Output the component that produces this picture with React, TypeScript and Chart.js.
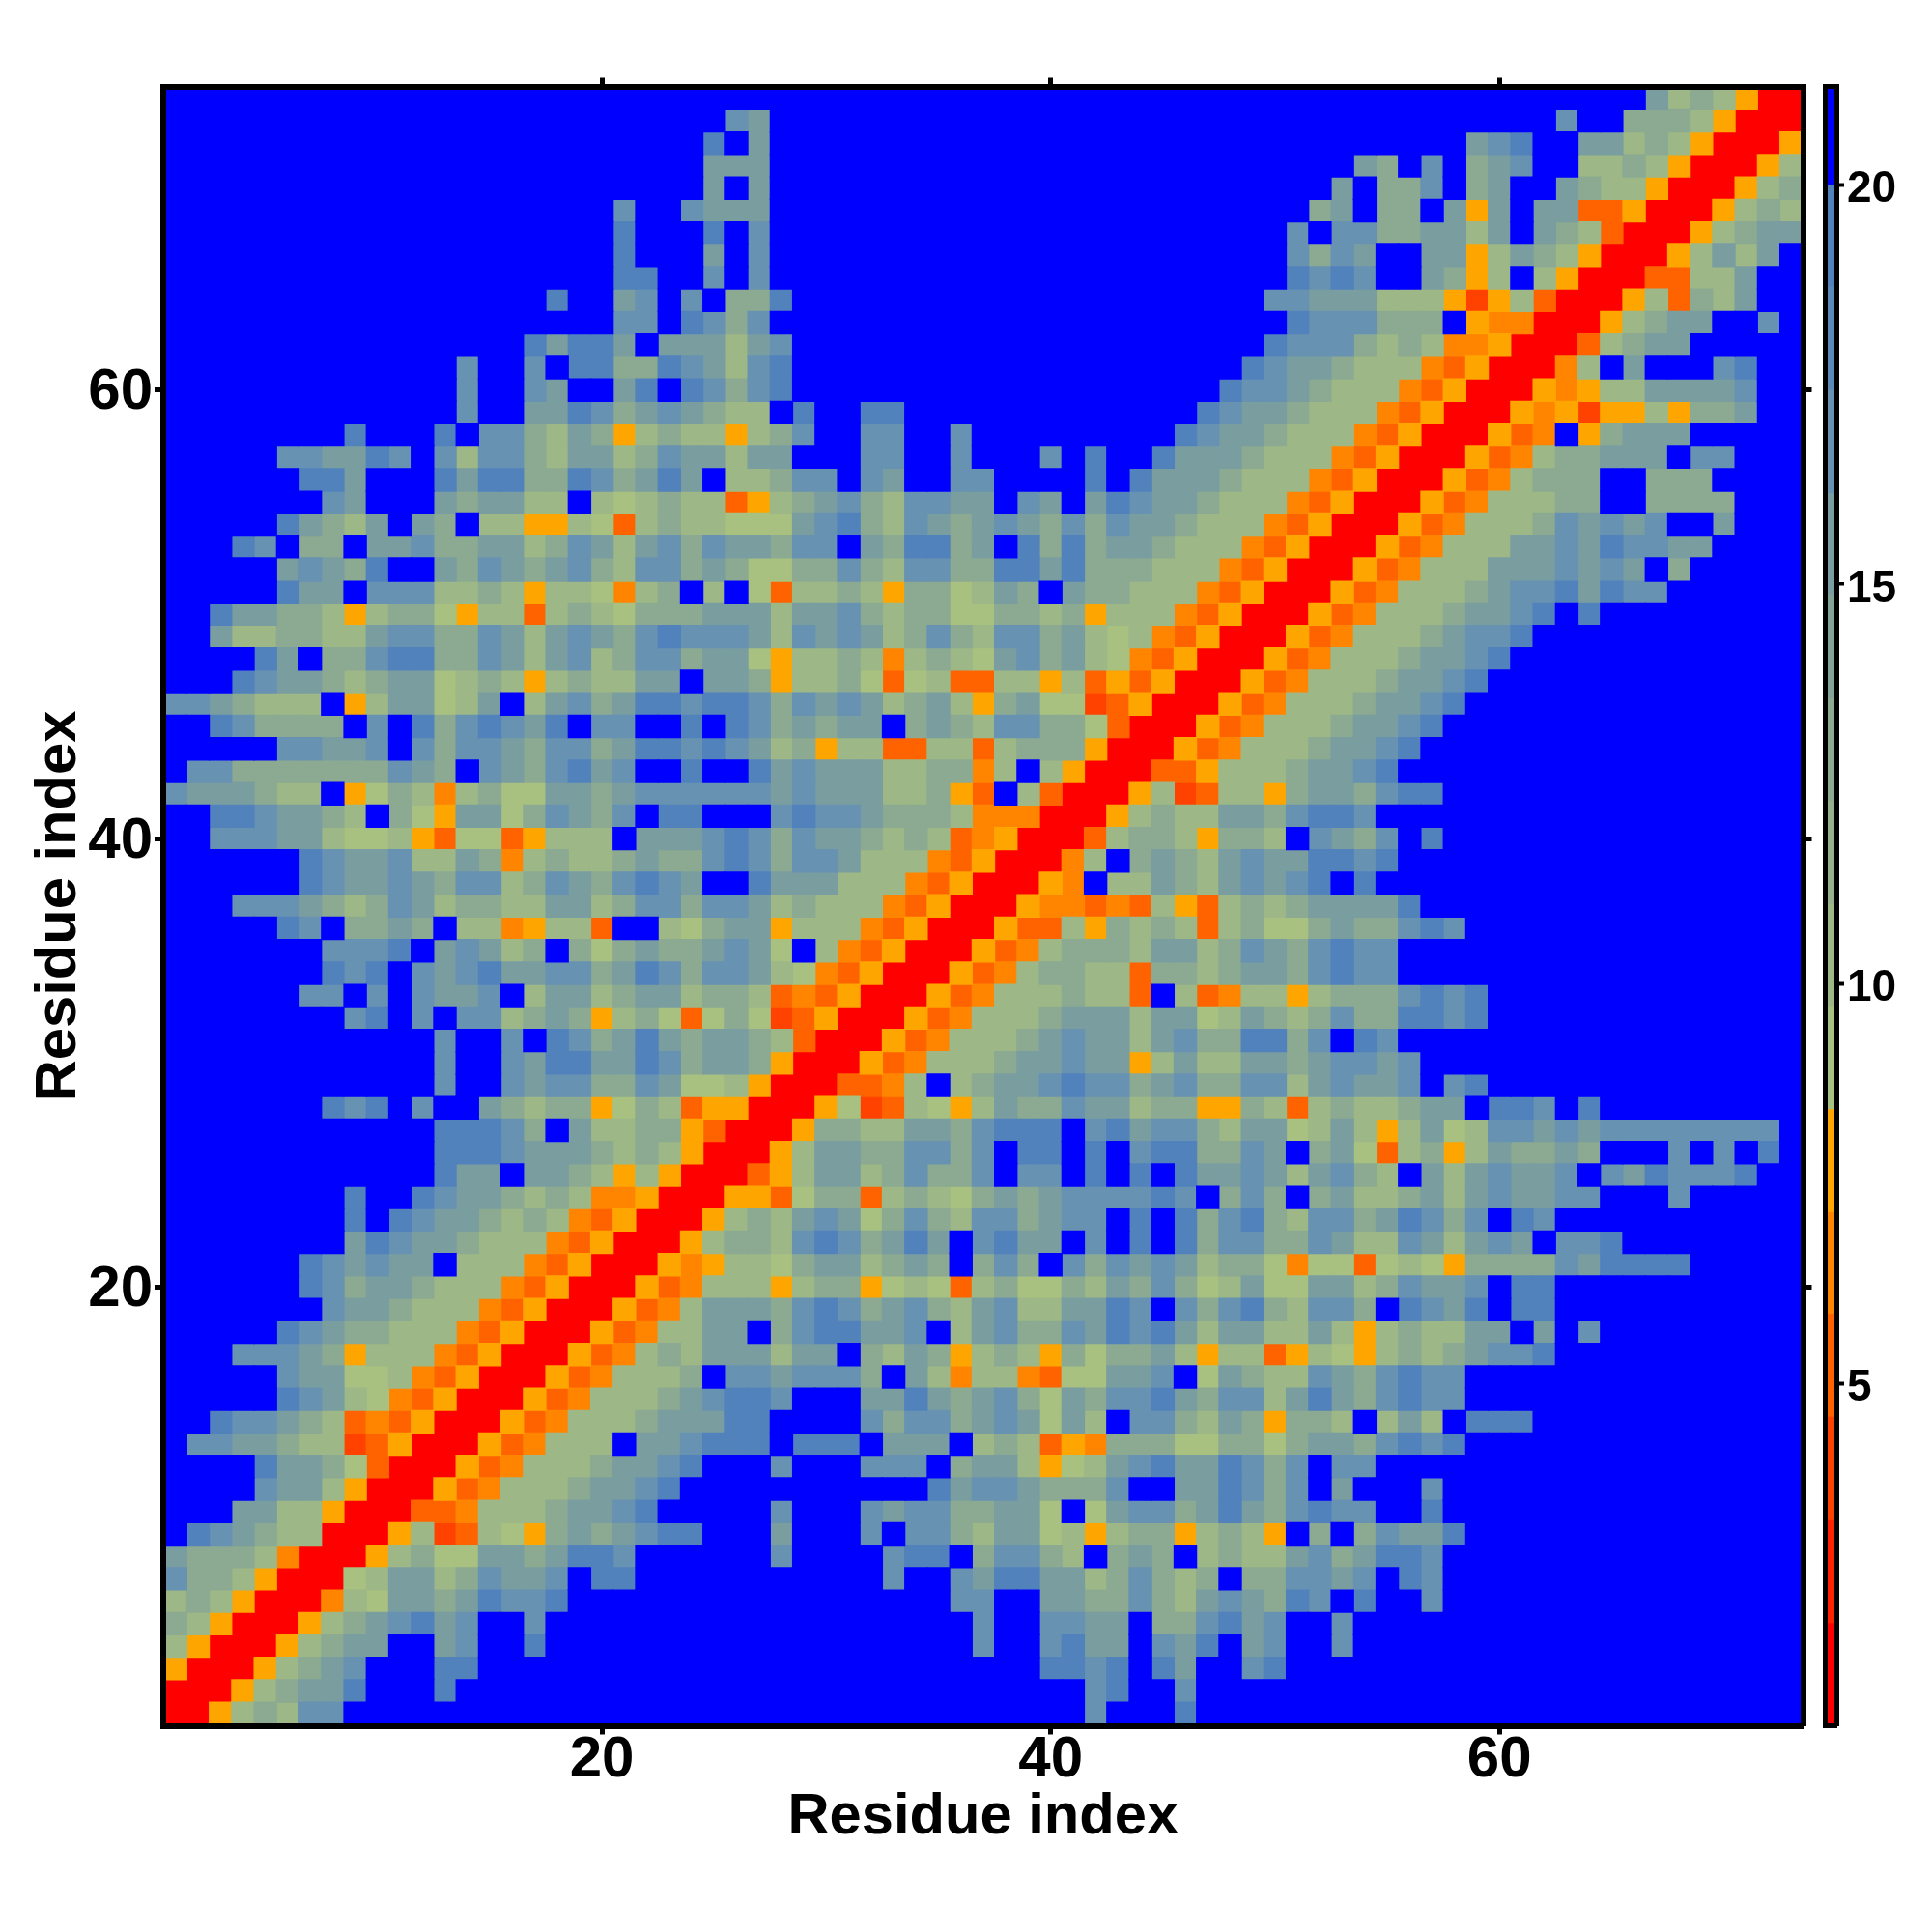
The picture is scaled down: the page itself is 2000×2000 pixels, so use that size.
import React, { useEffect, useRef } from "react";
import { Chart, registerables } from "chart.js";

Chart.register(...registerables);

// Residue pairs, top row = residue 73, left column = residue 1. Each letter is one colour band of the distance key.
const HEAT_ROWS = [
  ".......... .......... .......... .......... .......... .......... ......dbcb yrr",
  ".......... .......... .....ed... .......... .......... .......... ..e..cccby rrr",
  ".......... .......... ....f.d... .......... .......... ........de f..ddbcbyr rry",
  ".......... .......... ....ddd... .......... .......... ...dc.e.cd e..bbcbyrr ryb",
  ".......... .......... ....d.d... .......... .......... ..d.cce.cd ..dcbbyrrr ybc",
  ".......... .......... e..eddd... .......... .......... .cd.cc.dyd .ddooyrrry bcb",
  ".......... .......... f...f.e... .......... .......... e.eeccddbd .dcborrryb cdd",
  ".......... .......... f...d.e... .......... .......... eced..ddyb dcbyrrrybd bd.",
  ".......... .......... ff..e.e... .......... .......... fefe..dcyb .byrrroobb d..",
  ".......... .......f.. de.e.ccf.. .......... .........e edddbbbyqy borrrybocb d..",
  ".......... .......... ee.fece... .......... .......... feeeccc.yn nrrrybcdd. .e.",
  ".......... ......fdff d.dddbde.. .......... .........f eeecbcbnny rrrobcdd.. ...",
  ".......... ...e..e.ff ccfedbef.. .......... ........fe ddcbbbnoyr rrnb.d...e f..",
  ".......... ...e..ed.. df.fecef.. .......... .......fee dcbbbnoyrr rynybbdddd e..",
  ".......... ...e..ddfe cdedcbb.f. .ff....... ......fedd cbbbnoyrrr ynyqyybycc d..",
  "........f. ..f.eecbdc ybcbbybce. .ee..e.... .....feddc bbbnoyrrry on.ycddd.. ...",
  ".....eeddf e.ebeecbdd bceddbdd.. .ee..e...e .f..fdddcb bbnoyrrryo nbccddd.ee ...",
  "......ffd. ..fdffccfe cdfd.bbcee .ed..ee... .f.fdddcbb bnoyrrryon bccc..ccc. ...",
  ".......ed. ..dcddbb.b abcbboybcd ecbeedd.ed .dfeddcbbb noyrrryonb bbcc..cccc ...",
  ".....fdcbd .dc.bbyyba obcbbaaade fcbedcdedc eceddcbbbn oyrrryonbb bcedede..d ...",
  "...fe.cc.d deccddbced bdeceddcee .dcffcd.fc fcddcbbbno yrrryonbbb ddedfeedd. ...",
  ".....dedcf ..dcedcdec beecdcaacc ecbeeccffd fcccbbbnoy rrryonbbbd ddeded.c.. ...",
  ".....fdd.e eebbcbybba nbc.b.aobb cbyccabdc. dccbbbnoyr rryonbbbcd eefdfee... ...",
  "..fddccbyb ccaybbobcb acccdddbdd ecbccaaccb cybbbnoyrr ryonbbbcdd ef.f...... ...",
  "..dbbccbbd eeccedbded cefeeedbed edbcecbeec dbabnoyrrr yonbbbcdee f......... ...",
  "....fd.cce ffccedbdeb ceecddaybb cbnbcbadec dbanoyrrry onbbbcddef .......... ...",
  "...feddcbc ddabcbybcb bdd.ddcybb caoaboobby boyoyrrryo nbbbcddef. .......... ...",
  "eedcbbb.yb ddabd.bdec dffeffeced edbcdbycda aqoyrrryon bbbcddef.. .......... ...",
  "..fecccc.e .fcefedf.e e..f.fecdc dd.cdcbeec caorrryonb bbcddef... .......... ...",
  ".....eedde .eceedceec dffefedbcy bboobbobcc cyrrryonbb bcddef.... .......... ...",
  ".eeccccccc edc.edcefd e..f..fded ddbbccnb.b yrrrooybbb cddef..... .......... ...",
  "edddcbb.ya cbnbcaaddc deeeeeeded ddbbcyo.bo rrrybqobby cddceff... .......... ...",
  "..ffeddcb. caydd acedc e.ff...efe edcccbnnnr rrybcbbddc effe...... .......... ...",
  "..eeeddbaa byoaaoybbb .dddefeced dcbcbonyrr robccbyccb .edce.f... .......... ...",
  "......fedd ebbdcnbcbb cdccefecee dbbbnoyrrr nb.cdcbded dffef..... .......... ...",
  "......fedd edceebcedc efed..fddd bbbnoyrrry n.bbdcbded ef.f...... .......... ...",
  "...eeedcbc edbccbbddb ceeceedbcb bbnoyrrryn nonobyobcb cddddf.... .......... ...",
  ".....fe.cc dc.bbnybbo ..bacddybb bnoyrrryoo bycbcbobca acdccefe.. .......... ...",
  ".......eee f.dedbc.ca cdccdeda.b noyrrryonb cccbddbced cefee..... .......... ...",
  ".......fef .edefddeec dfeceedban oyrrryonbc cbboccbcdd cefee..... .......... ...",
  "......ee.e .edde.bddb cddbccbono yrrryonbbb cbbo.bonbb ybcccefef. .......... ...",
  "........ef .e.eebcdcy bcaoacaqoy rrryonbbbc dddbddabdc bceccffef. .......... ...",
  ".......... ..e..e.fec dfdcddcbor rryonbbbcd eddbdeccff ce.fe..... .......... ...",
  ".......... ..e..edffd dfecddcyrr ryonbbbcdd eddybdbbdd cdeede.... .......... ...",
  ".......... ..e..edeec cedaabyrrr oonb.bcdde feecdeccee bdedde.ef. .......... ...",
  ".......fef .e..dcbccy acboyyrrry aqobaybdcc eddbccyycb obcbbcdd.f fe.f...... ...",
  ".......... ..fffec.db bccyorrryc cbbddcefff .efdeecbdd abdbybdabe ededeeeeee ee.",
  ".......... ..fffedddc bcbyrrrybd dcceece.ff .f.effcced .cdaobcybd ccdc...e.e .f.",
  ".......... ..fdd.ddcb ybyrrroybd dbcecce.ee .f.f.fdded bdecb.dbde dde.edfeee f..",
  "........f. .feddcbcbn nyrrryyoac cobcbacdcd eeeefe.cec .cdbbcdbde ddee...e.. ...",
  "........f. feddcbcbno yrrrybcbde dacecbeecd ee.f.fcefc beecdfece. fe........ ...",
  "........df eddcbbbnoy rrrybccbef ecdfd.efdd .e.f.fceec cedbbedbde d.eef..... ...",
  "......fede dd.bbbnoyr rrynybbacd dbcdc.cec. ecededbcca naaoabaycc ccedffff.. ...",
  "......fecd dcbbbnoyrr ryonbbbybc cyabaobcaa cbdcecabda addbcedde. ff........ ...",
  ".......edd cbbbnoyrrr yonbdddcef ecdecbdebb ddfe.ecefc beec.fedf. ff........ ...",
  ".....fedcc bbbnoyrrry onbbdd.cef fdde.bdecc edfefdbddb bdbybcbbdd .d.e...... ...",
  "...eeedcyb bbnoyrrryo nbcbdddbdd .cbdcybcby caccdbybbo ybaybcbcde ef........ ...",
  ".....eddaa bnoyrrryon bbbc.eedee ec.dbnbbno aadde.adcb bedcefee.. .......... ...",
  ".....fedba noyrrryonb bbcdeffe.. .ddfdcdeca dceefdceeb dfdcefee.. .......... ...",
  "..feedcbon oyrrryonbb bcdddff... .eceecdeda db.eecbdcy ccb.bdb.ff f......... ...",
  ".eeddcbbqo yrrryonbbb .ddefff.ff f.ddd.bcbo yncccaacca cddcefef.. .......... ...",
  "....fddcao rrryonbbbc ddef...e.. .eee.cddby abdefddfec e.ee...... .......... ...",
  "....eddbyr rryonbbbcd def....... ....fdeedc cce..ddfec e.d...e... .......... ...",
  "...ddbbyrr roonbbbcdd ef.....e.. .edeeccdda .adeecdfdc efee..f... .......... ...",
  ".fedcbbrrr ybqobaycdc deff...d.. .e.eecbdda bybccybcby .c.ceddf.. .......... ...",
  "dcccbnrrry bcaaddcdff e......e.. ..eff.ceec b.cdc.bcbb decdffe... .......... ...",
  "eccbyrrrab ddbcedde.f f......... ..e..edffd dbcecbc.cc eede.fe... .......... ...",
  "bcbyrrrnba ddcdfeef.. .......... .....ee..d dccecbdedc fe.f..e... .......... ...",
  "cbyrrrybcd efde..e... .......... ......e..e edd.ccefde ..e....... .......... ...",
  "byrrrybcdd ..de..f... .......... ......e..e fdd.edf.de ..e....... .......... ...",
  "yrrrybcde. ..ff...... .......... .........f fef.fd..ef .......... .......... ...",
  "rrrybcddf. ..f....... .......... .......... .ef..e.... .......... .......... ...",
  "rrybcbee.. .......... .......... .......... .e...f.... .......... .......... ...",
];

const CELL_CODES = ["r", "q", "o", "n", "y", "a", "b", "c", "d", "e", "f", "."];
const CELL_COLORS = ["#ff0000", "#ff4200", "#ff6300", "#ff8400", "#ffa500", "#a8c080", "#9db886", "#8caa91", "#7a9ea0", "#6892b2", "#5282bc", "#0000ff"];

const MAIN_TICKS = [20, 40, 60];
const KEY_TICKS = [5, 10, 15, 20];
const KEY_EDGES = [0.72, 2.0, 3.3, 4.58, 5.87, 7.14, 8.43, 9.72, 11.0, 12.29, 13.57, 14.86, 16.14, 17.43, 18.72, 20.0, 21.23];
const KEY_COLORS = ["#ff0000", "#ff2100", "#ff4200", "#ff6300", "#ff8400", "#ffa500", "#a8c080", "#9db886", "#94b18c", "#8caa91", "#82a498", "#7a9ea0", "#6892b2", "#5c8ab8", "#5282bc", "#0000ff"];

const X_LABEL = "Residue index";
const Y_LABEL = "Residue index";
const FONT_FAMILY = "'Liberation Sans', Arial, sans-serif";

function forceTicks(values: number[]) {
  return (scale: any) => {
    scale.ticks = values.map((value) => ({ value }));
  };
}

function fixed(size: number, dim: "width" | "height") {
  return (scale: any) => {
    scale[dim] = size;
  };
}

export default function App() {
  const mainRef = useRef<HTMLCanvasElement>(null);
  const keyRef = useRef<HTMLCanvasElement>(null);

  useEffect(() => {
    const rows = HEAT_ROWS.map((s) => s.replace(/ /g, "").padEnd(73, "."));
    const datasets = CELL_CODES.map((code, i) => {
      const data: { x: number; y: number }[] = [];
      rows.forEach((row, r) => {
        for (let c = 0; c < 73; c++) if (row[c] === code) data.push({ x: c + 1, y: 73 - r });
      });
      return {
        data,
        backgroundColor: CELL_COLORS[i],
        borderWidth: 0,
        clip: 0,
        pointStyle: "rect",
        order: CELL_CODES.length - i,
        pointRadius: (ctx: any) => {
          const s = ctx.chart.scales.x;
          return (Math.abs(s.getPixelForValue(2) - s.getPixelForValue(1)) + 1.2) / Math.SQRT2;
        },
      };
    });

    const frame = { display: true, width: 6, color: "#000", z: 2 };
    const tickGrid = { drawOnChartArea: false, drawTicks: true, tickLength: 9, tickWidth: 5, tickColor: "#000" };
    const mainFont = { family: FONT_FAMILY, weight: "bold" as const, size: 60 };

    const main = new Chart(mainRef.current!, {
      type: "scatter",
      data: { datasets: datasets as any },
      options: {
        animation: false,
        responsive: false,
        devicePixelRatio: 1,
        events: [],
        plugins: { legend: { display: false }, tooltip: { enabled: false } },
        scales: {
          x: {
            type: "linear", position: "bottom", min: 0.45, max: 73.53,
            afterBuildTicks: forceTicks(MAIN_TICKS), afterFit: fixed(213.5, "height"),
            border: frame, grid: tickGrid,
            ticks: { font: mainFont, color: "#000", padding: -9, maxRotation: 0, autoSkip: false, callback: (v: any) => String(v) },
            title: { display: true, text: X_LABEL, color: "#000", font: { ...mainFont, size: 59.7 }, padding: { top: 0, bottom: 83 } },
          },
          y: {
            type: "linear", position: "left", min: 0.45, max: 73.53,
            afterBuildTicks: forceTicks(MAIN_TICKS), afterFit: fixed(169, "width"),
            border: frame, grid: tickGrid,
            ticks: { font: mainFont, color: "#000", padding: 2, labelOffset: 3, autoSkip: false, callback: (v: any) => String(v) },
            title: { display: true, text: Y_LABEL, color: "#000", font: { ...mainFont, size: 59.7 }, padding: { top: 26, bottom: 0 } },
          },
          xTop: {
            type: "linear", axis: "x", position: "top", min: 0.45, max: 73.53, display: true,
            afterBuildTicks: forceTicks(MAIN_TICKS), afterFit: fixed(89.5, "height"),
            border: frame, grid: tickGrid, ticks: { display: false },
          },
          yRight: {
            type: "linear", axis: "y", position: "right", min: 0.45, max: 73.53, display: true,
            afterBuildTicks: forceTicks(MAIN_TICKS), afterFit: fixed(133.5, "width"),
            border: frame, grid: tickGrid, ticks: { display: false },
          },
        } as any,
      },
    } as any);

    const keyFrame = { display: true, width: 5, color: "#000", z: 2 };
    const key = new Chart(keyRef.current!, {
      type: "bar",
      data: {
        labels: ["key"],
        datasets: KEY_COLORS.map((color, i) => ({
          data: [[KEY_EDGES[i], KEY_EDGES[i + 1]]],
          backgroundColor: color,
          borderWidth: 0,
          grouped: false,
          barPercentage: 1,
          categoryPercentage: 1,
          xAxisID: "x",
          yAxisID: "y",
        })) as any,
      },
      options: {
        animation: false,
        responsive: false,
        devicePixelRatio: 1,
        events: [],
        plugins: { legend: { display: false }, tooltip: { enabled: false } },
        scales: {
          x: {
            type: "category", position: "bottom", display: true, afterFit: fixed(213.5, "height"),
            border: keyFrame, grid: { display: false }, ticks: { display: false },
          },
          xTop: {
            type: "linear", axis: "x", position: "top", display: true, afterFit: fixed(89.5, "height"),
            border: keyFrame, grid: { display: false }, ticks: { display: false },
          },
          yLeft: {
            type: "linear", axis: "y", position: "left", display: true, afterFit: fixed(1889.5, "width"),
            border: keyFrame, grid: { display: false }, ticks: { display: false },
          },
          y: {
            type: "linear", position: "right", min: 0.72, max: 21.23, afterFit: fixed(99, "width"),
            afterBuildTicks: forceTicks(KEY_TICKS),
            border: keyFrame,
            grid: { drawOnChartArea: false, drawTicks: true, tickLength: 8, tickWidth: 4, tickColor: "#000" },
            ticks: { font: { family: FONT_FAMILY, weight: "bold", size: 46 }, color: "#000", padding: 3, labelOffset: 5, autoSkip: false, callback: (v: any) => String(v) },
          },
        } as any,
      },
    } as any);

    return () => {
      main.destroy();
      key.destroy();
    };
  }, []);

  const style: React.CSSProperties = { position: "absolute", left: 0, top: 0, width: 2000, height: 2000 };
  return (
    <div style={{ position: "absolute", left: 0, top: 0, width: 2000, height: 2000, background: "#fff" }}>
      <canvas ref={mainRef} width={2000} height={2000} style={style} />
      <canvas ref={keyRef} width={2000} height={2000} style={style} />
    </div>
  );
}
